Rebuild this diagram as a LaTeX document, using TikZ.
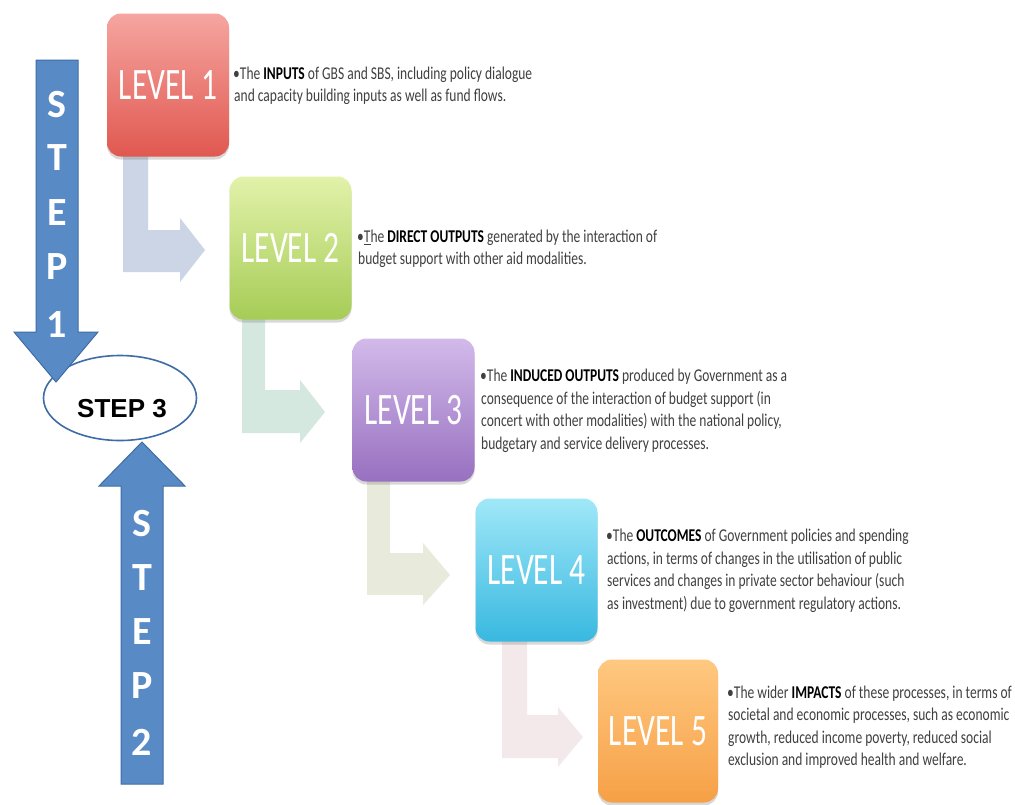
\documentclass[tikz,border=0pt]{standalone}
\usepackage{fontspec}
\setmainfont{Carlito}
\newfontfamily\condfont[FakeStretch=0.75]{Carlito}
\newfontfamily\lvlfont[FakeStretch=0.70]{Carlito}
\newfontfamily\stepfont{Liberation Sans}
\usetikzlibrary{shapes.geometric,shadows}
\definecolor{stepfill}{RGB}{88,139,198}
\definecolor{stepdraw}{RGB}{62,108,165}
\definecolor{txtgray}{RGB}{64,64,64}
\definecolor{aone}{RGB}{203,213,230}
\definecolor{atwo}{RGB}{213,232,224}
\definecolor{athree}{RGB}{232,234,220}
\definecolor{afour}{RGB}{243,232,234}
\definecolor{lonetop}{RGB}{246,165,160}
\definecolor{lonebot}{RGB}{224,88,80}
\definecolor{ltwotop}{RGB}{226,242,170}
\definecolor{ltwobot}{RGB}{166,204,86}
\definecolor{lthreetop}{RGB}{210,186,234}
\definecolor{lthreebot}{RGB}{152,112,192}
\definecolor{lfourtop}{RGB}{160,232,248}
\definecolor{lfourbot}{RGB}{56,184,224}
\definecolor{lfivetop}{RGB}{255,200,128}
\definecolor{lfivebot}{RGB}{246,160,70}
\tikzset{
  levelbox/.style={rounded corners=14pt, minimum width=122pt, minimum height=143pt,
    inner sep=0pt, text=white, font=\lvlfont\fontsize{45}{45}\selectfont,
    drop shadow={shadow xshift=0pt, shadow yshift=-3pt, opacity=0.25, fill=black!60}},
  desc/.style={anchor=west, align=left, inner sep=0pt, text=txtgray,
    font=\condfont\fontsize{18}{22.5}\selectfont},
  steparrow/.style={fill=stepfill, draw=stepdraw, line width=1pt, line join=miter},
  stepletter/.style={text=white, inner sep=0pt, font=\bfseries\fontsize{40}{40}\selectfont},
  stepellipse/.style={ellipse, draw=stepdraw, line width=1.6pt, fill=white,
    minimum width=153pt, minimum height=85pt, inner sep=0pt},
}
\newcommand{\bk}[1]{\textbf{\color{black}#1}}
\begin{document}
\begin{tikzpicture}[x=1pt, y=-1pt]
\useasboundingbox (0,0) rectangle (1015,804);
\fill[white] (0,0) rectangle (1015,804);

% bent connector arrows
\fill[aone] (123,150) -- (148,150) -- (148,230) -- (180,230) -- (180,218) -- (205,250) -- (180,282) -- (180,272) -- (123,272) -- cycle;
\fill[atwo] (242,312) -- (265,312) -- (265,390) -- (300,390) -- (300,380) -- (325,412) -- (300,443) -- (300,433) -- (242,433) -- cycle;
\fill[athree] (367,475) -- (390,475) -- (390,553) -- (423,553) -- (423,543) -- (450,575) -- (423,605) -- (423,595) -- (367,595) -- cycle;
\fill[afour] (502,634) -- (527,634) -- (527,715) -- (558,715) -- (558,707) -- (583,737) -- (558,767) -- (558,758) -- (502,758) -- cycle;

% level boxes
\node[levelbox, top color=lonetop, bottom color=lonebot] (l1) at (168,85) {LEVEL 1};
\node[levelbox, top color=ltwotop, bottom color=ltwobot] (l2) at (290.5,248) {LEVEL 2};
\node[levelbox, top color=lthreetop, bottom color=lthreebot] (l3) at (413.5,410) {LEVEL 3};
\node[levelbox, top color=lfourtop, bottom color=lfourbot] (l4) at (536.5,570) {LEVEL 4};
\node[levelbox, top color=lfivetop, bottom color=lfivebot, minimum width=120pt] (l5) at (658,731) {LEVEL 5};

% descriptions
\node[desc] (d1) at (233,86) {•The \bk{INPUTS} of GBS and SBS, including policy dialogue\\\hspace*{1pt}and capacity building inputs as well as fund flows.};
\node[desc] (d2) at (357,249) {•\underline{T}he \bk{DIRECT OUTPUTS} generated by the interaction of\\\hspace*{1pt}budget support with other aid modalities.};
\node[desc] (d3) at (480,411) {•The \bk{INDUCED OUTPUTS} produced by Government as a\\\hspace*{1pt}consequence of the interaction of budget support (in\\\hspace*{1pt}concert with other modalities) with the national policy,\\\hspace*{1pt}budgetary and service delivery processes.};
\node[desc] (d4) at (606,571) {•The \bk{OUTCOMES} of Government policies and spending\\\hspace*{1pt}actions, in terms of changes in the utilisation of public\\\hspace*{1pt}services and changes in private sector behaviour (such\\\hspace*{1pt}as investment) due to government regulatory actions.};
\node[desc] (d5) at (727,727) {•The wider \bk{IMPACTS} of these processes, in terms of\\\hspace*{1pt}societal and economic processes, such as economic\\\hspace*{1pt}growth, reduced income poverty, reduced social\\\hspace*{1pt}exclusion and improved health and welfare.};

% step 3 ellipse
\node[stepellipse] (s3) at (120,398) {};
\node[inner sep=0pt, font=\stepfont\bfseries\fontsize{26}{26}\selectfont] (s3t) at (122,409) {STEP 3};

% step arrows
\draw[steparrow] (36,60) -- (78,60) -- (78,332) -- (98,332) -- (56,382) -- (14,332) -- (36,332) -- cycle;
\draw[steparrow] (121,784) -- (163,784) -- (163,486) -- (185,486) -- (142,442) -- (99,486) -- (121,486) -- cycle;

\node[stepletter] (a1) at (57,105) {S};
\node[stepletter] (a2) at (57,158) {T};
\node[stepletter] (a3) at (57,213) {E};
\node[stepletter] (a4) at (57,267) {P};
\node[stepletter] (a5) at (57,325) {1};
\node[stepletter] (b1) at (142,524) {S};
\node[stepletter] (b2) at (142,578) {T};
\node[stepletter] (b3) at (142,632) {E};
\node[stepletter] (b4) at (142,686) {P};
\node[stepletter] (b5) at (142,742) {2};
\end{tikzpicture}
\end{document}
